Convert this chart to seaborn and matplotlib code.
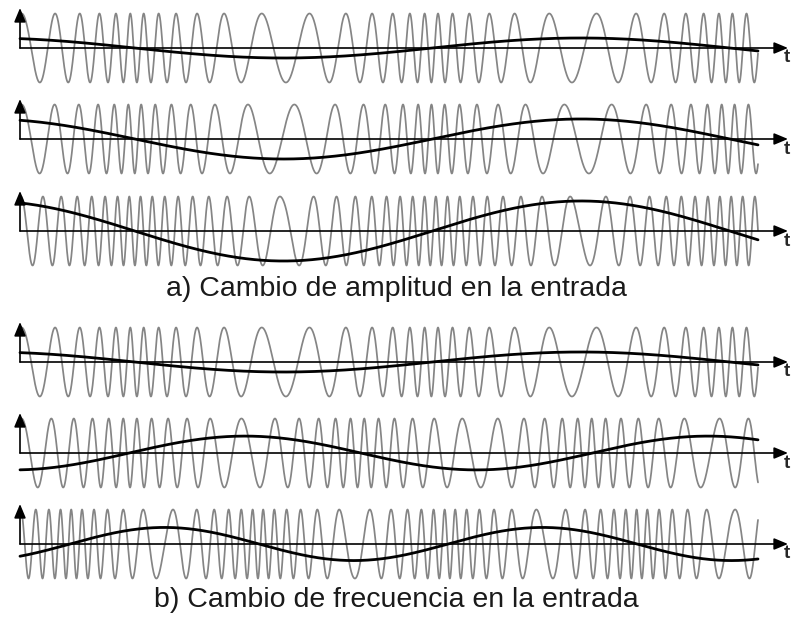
import numpy as np
import pandas as pd
import matplotlib
matplotlib.use("Agg")
import matplotlib.pyplot as plt
import seaborn as sns

# ---------------- data ----------------
# one entry per panel (top to bottom)
panel_group = ["a", "a", "a", "b", "b", "b"]
# modulating signal: amplitude (relative to carrier amplitude), period and position of a maximum (t units)
mod_amplitude = [0.29, 0.58, 0.87, 0.29, 0.49, 0.48]
mod_period = [595, 595, 595, 595, 463, 378]
mod_peak_t = [-34, -34, -34, -34, 225, 144.5]
# carrier instantaneous frequency (cycles per t unit) at the extremes and at the zero crossings
carrier_freq_ext = [0.020, 0.020, 0.022, 0.020, 0.025, 0.027]
carrier_freq_zero = [0.077, 0.080, 0.090, 0.077, 0.075, 0.097]
carrier_shape = [1.7, 1.7, 0.9, 1.7, 1.1, 1.0]
t_end = 738
captions = ["a) Cambio de amplitud en la entrada", "b) Cambio de frecuencia en la entrada"]
axis_label = "t"

# ---------------- layout (pixels) ----------------
W, H = 793, 619
DPI = 100
baselines_px = [48, 139, 231, 362, 453, 544]
caption_y_px = [289, 600]
half_h_px = 45
amp_px = 34.5

sns.set_theme(style="white")
plt.rcParams["font.family"] = ["Liberation Sans", "DejaVu Sans"]

fig = plt.figure(figsize=(W / DPI, H / DPI), dpi=DPI)

GRAY = "#858585"
for i, yb in enumerate(baselines_px):
    bottom = (H - yb - half_h_px) / H
    ax = fig.add_axes([0, bottom, 1, 2 * half_h_px / H])
    ax.set_xlim(-20, W - 20)
    lim = half_h_px / amp_px
    ax.set_ylim(-lim, lim)
    ax.axis("off")

    t = np.linspace(0, t_end, 8000)
    u = 2 * np.pi * (t - mod_peak_t[i]) / mod_period[i]
    m = mod_amplitude[i] * np.cos(u)
    tri = (2 / np.pi) * np.arcsin(np.abs(np.sin(u)))
    f = carrier_freq_ext[i] + (carrier_freq_zero[i] - carrier_freq_ext[i]) * tri ** carrier_shape[i]
    phase = 2 * np.pi * np.concatenate([[0], np.cumsum((f[1:] + f[:-1]) / 2 * np.diff(t))])
    carrier = np.cos(phase - 0.25)

    df = pd.DataFrame({"t": t, "carrier": carrier, "mod": m})
    sns.lineplot(data=df, x="t", y="carrier", ax=ax, color=GRAY, linewidth=1.25,
                 estimator=None, sort=False, zorder=1)
    # axes arrows
    ax.annotate("", xy=(W - 5 - 20, 0), xytext=(0, 0),
                arrowprops=dict(arrowstyle="-|>,head_length=0.6,head_width=0.25",
                                color="black", lw=1.2, shrinkA=0, shrinkB=0,
                                mutation_scale=14), zorder=2)
    ax.annotate("", xy=(0, 40 / amp_px), xytext=(0, 0),
                arrowprops=dict(arrowstyle="-|>,head_length=0.6,head_width=0.25",
                                color="black", lw=1.2, shrinkA=0, shrinkB=0,
                                mutation_scale=14), zorder=2)
    sns.lineplot(data=df, x="t", y="mod", ax=ax, color="black", linewidth=2.0,
                 estimator=None, sort=False, zorder=3)
    ax.text(W - 6 - 20, -10 / amp_px, axis_label, fontsize=13.5, fontweight="bold",
            ha="center", va="center")
    ax.set_xlabel("")
    ax.set_ylabel("")

for cap, cy in zip(captions, caption_y_px):
    fig.text(396 / W, 1 - cy / H, cap, fontsize=20.5, ha="center", va="center", color="#1a1a1a")

fig.savefig("out.png", dpi=DPI)
